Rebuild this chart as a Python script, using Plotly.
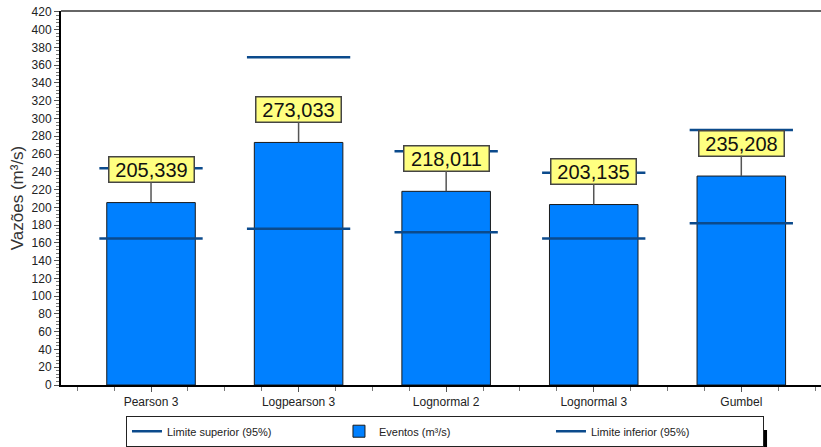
import plotly.graph_objects as go

categories = ["Pearson 3", "Logpearson 3", "Lognormal 2", "Lognormal 3", "Gumbel"]
eventos = [205.339, 273.033, 218.011, 203.135, 235.208]
eventos_labels = ["205,339", "273,033", "218,011", "203,135", "235,208"]
limite_superior = [244, 369, 263, 239, 287]
limite_inferior = [165, 176, 172, 165, 182]
y_ticks = list(range(0, 421, 20))

xpos = list(range(len(categories)))
half = 0.35

def segs(vals):
    xs, ys = [], []
    for i, v in zip(xpos, vals):
        xs += [i - half, i + half, None]
        ys += [v, v, None]
    return xs, ys

fig = go.Figure()
sx, sy = segs(limite_superior)
fig.add_trace(go.Scatter(x=sx, y=sy, mode="lines", name="Limite superior (95%)",
                         line=dict(color="#0b4a8c", width=2.5)))
fig.add_trace(go.Bar(x=xpos, y=eventos, name="Eventos (m³/s)", width=0.6,
                     marker=dict(color="#0080ff", line=dict(color="#1a1a1a", width=1))))
ix, iy = segs(limite_inferior)
fig.add_trace(go.Scatter(x=ix, y=iy, mode="lines", name="Limite inferior (95%)",
                         line=dict(color="#0b4a8c", width=2.5)))

for i, v, t in zip(xpos, eventos, eventos_labels):
    fig.add_annotation(x=i, y=v, text=t, showarrow=True, arrowhead=0, arrowwidth=1.5,
                       arrowcolor="#555555", ax=0, ay=-33, width=82,
                       bgcolor="#ffff80", bordercolor="#444444", borderwidth=1.5, borderpad=1,
                       font=dict(family="Liberation Sans, Arial", size=20, color="#111111"))

W, H = 821, 447
L, T, B = 61, 11, 62
fig.update_layout(
    width=W, height=H,
    margin=dict(l=L, r=0, t=T, b=B, autoexpand=False),
    plot_bgcolor="white", paper_bgcolor="white",
    showlegend=True,
    font=dict(family="Liberation Sans, Arial", size=12, color="#222222"),
    legend=dict(orientation="h", x=0.0855, y=-0.165, xanchor="left", yanchor="bottom",
                bordercolor="#222222", borderwidth=1, bgcolor="white",
                entrywidth=167, entrywidthmode="pixels",
                font=dict(size=11, color="#222222"), traceorder="normal",
                itemwidth=30, valign="middle"),
)
fig.update_xaxes(range=[-0.61, 4.54], tickvals=xpos, ticktext=categories,
                 showgrid=False, zeroline=False, showline=True, linecolor="black", linewidth=2,
                 ticks="outside", ticklen=5, tickcolor="#555555",
                 minor=dict(dtick=0.25, tick0=0, ticks="outside", ticklen=4, tickcolor="#777777"),
                 tickfont=dict(size=12, color="#222222"), mirror=False)
fig.update_yaxes(range=[0, 421], tickvals=y_ticks, showgrid=False, zeroline=False,
                 showline=True, linecolor="black", linewidth=2,
                 ticks="outside", ticklen=5, tickcolor="#555555",
                 minor=dict(dtick=4, ticks="outside", ticklen=3, tickcolor="#777777"),
                 tickfont=dict(size=12, color="#222222"), ticklabeloverflow="allow",
                 title=dict(text="Vazões (m³/s)", font=dict(size=17, color="#333333"), standoff=4))
# top border of plot area
fig.add_shape(type="line", xref="paper", yref="paper", x0=0, x1=1, y0=1, y1=1,
              line=dict(color="#666666", width=2))
# legend drop shadow
fig.add_shape(type="rect", xref="paper", yref="paper", x0=0.0895, x1=0.929,
              y0=-0.19, y1=-0.12, fillcolor="black", line=dict(width=0))
fig.write_html("out.html", config={"displayModeBar": False},
               post_script="document.body.style.margin='0';document.body.style.overflow='hidden';")
